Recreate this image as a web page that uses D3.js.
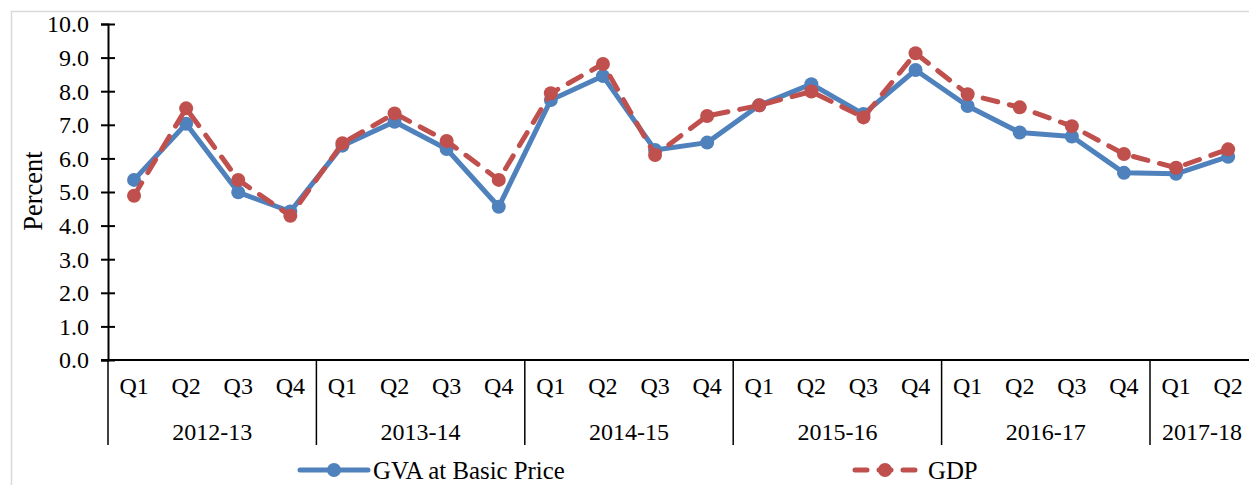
<!DOCTYPE html>
<html><head><meta charset="utf-8">
<script src="https://cdn.jsdelivr.net/npm/d3@7"></script>
<style>
html,body{margin:0;padding:0;background:#fff;}
svg text{font-family:"Liberation Serif","Times New Roman",serif;fill:#000;}
</style></head>
<body>
<svg id="chart" width="1249" height="485"></svg>
<script>
const years = ["2012-13","2013-14","2014-15","2015-16","2016-17","2017-18"];
const quartersPerYear = [4,4,4,4,4,2];
const quarterLabels = ["Q1","Q2","Q3","Q4"];
const gva = [5.36,7.03,4.99,4.42, 6.38,7.09,6.28,4.56, 7.74,8.45,6.25,6.47, 7.58,8.21,7.32,8.63, 7.56,6.77,6.65,5.57, 5.54,6.05];
const gdp = [4.89,7.49,5.36,4.29, 6.45,7.34,6.52,5.36, 7.94,8.81,6.10,7.26, 7.58,7.99,7.22,9.13, 7.91,7.52,6.96,6.13, 5.72,6.27];
const yTicks = [0,1,2,3,4,5,6,7,8,9,10];
const seriesNames = ["GVA at Basic Price","GDP"];
const colors = ["#4f81bd","#c0504d"];

const svg = d3.select("#chart");
const FS = 24;
// frame
svg.append("rect").attr("x",11.5).attr("y",11.5).attr("width",1300).attr("height",600)
  .attr("fill","none").attr("stroke","#d9d9d9").attr("stroke-width",1.5);

const cats = [];
years.forEach((y,i)=>{ for(let q=0;q<quartersPerYear[i];q++) cats.push({year:y,q:quarterLabels[q],yi:i}); });
const x = d3.scaleBand().domain(d3.range(cats.length)).range([108, 108+22*52.1]);
const y = d3.scaleLinear().domain([0,10]).range([360,24]);

// y axis
const yAxis = svg.append("g").attr("transform","translate(108,0)")
  .call(d3.axisLeft(y).tickValues(yTicks).tickFormat(d3.format(".1f")).tickSize(7).tickPadding(12));
yAxis.attr("font-family",null).attr("font-size",null);
yAxis.select(".domain").attr("stroke","#000").attr("stroke-width",2);
yAxis.selectAll(".tick line").attr("stroke","#000").attr("stroke-width",2).attr("x2",-7).attr("x1",7);
yAxis.selectAll(".tick text").attr("font-size",FS).attr("fill","#000").attr("dy","0.33em");

// x axis line
svg.append("line").attr("x1",101).attr("x2",1249).attr("y1",y(0)).attr("y2",y(0)).attr("stroke","#000").attr("stroke-width",2);

// quarter labels
svg.append("g").selectAll("text").data(cats).join("text")
  .attr("x",(d,i)=>x(i)+x.bandwidth()/2).attr("y",386).attr("dy","0.35em")
  .attr("text-anchor","middle").attr("font-size",FS).text(d=>d.q);

// year separators and labels
let start=0;
const yearInfo = years.map((yr,i)=>{ const s=start; start+=quartersPerYear[i]; return {yr,s,e:start}; });
svg.append("g").selectAll("line").data(yearInfo).join("line")
  .attr("x1",d=>x(d.s)).attr("x2",d=>x(d.s)).attr("y1",y(0)).attr("y2",445)
  .attr("stroke","#000").attr("stroke-width",1.5);
svg.append("g").selectAll("text").data(yearInfo).join("text")
  .attr("x",d=>(x(d.s)+x(d.e-1)+x.bandwidth())/2).attr("y",432).attr("dy","0.35em")
  .attr("text-anchor","middle").attr("font-size",FS).text(d=>d.yr);

// y label
svg.append("text").attr("transform","translate(33,191) rotate(-90)").attr("text-anchor","middle")
  .attr("dy","0.35em").attr("font-size",26.5).text("Percent");

const line = d3.line().x((d,i)=>x(i)+x.bandwidth()/2).y(d=>y(d));
// GVA
svg.append("path").datum(gva).attr("d",line).attr("fill","none").attr("stroke",colors[0])
  .attr("stroke-width",5).attr("stroke-linejoin","round");
svg.append("g").selectAll("circle").data(gva).join("circle")
  .attr("cx",(d,i)=>x(i)+x.bandwidth()/2).attr("cy",d=>y(d)).attr("r",7).attr("fill",colors[0]);
// GDP
svg.append("path").datum(gdp).attr("d",line).attr("fill","none").attr("stroke",colors[1])
  .attr("stroke-width",5).attr("stroke-dasharray","15,12").attr("stroke-linecap","round");
svg.append("g").selectAll("circle").data(gdp).join("circle")
  .attr("cx",(d,i)=>x(i)+x.bandwidth()/2).attr("cy",d=>y(d)).attr("r",7).attr("fill",colors[1]);

// legend
const lg = [{x1:300,x2:368,cx:334,tx:373},{x1:853,x2:916,cx:885,tx:928}];
lg.forEach((l,i)=>{
  const ly=470;
  const ln = svg.append("line").attr("x1",l.x1).attr("x2",l.x2).attr("y1",ly).attr("y2",ly)
    .attr("stroke",colors[i]).attr("stroke-width",5).attr("stroke-linecap","round");
  if(i===1) ln.attr("stroke-dasharray","12,12").attr("stroke-dashoffset",-2);
  svg.append("circle").attr("cx",l.cx).attr("cy",ly).attr("r",7).attr("fill",colors[i]);
  svg.append("text").attr("x",l.tx).attr("y",ly).attr("dy","0.35em").attr("font-size",24.8).text(seriesNames[i]);
});
</script>
</body></html>
